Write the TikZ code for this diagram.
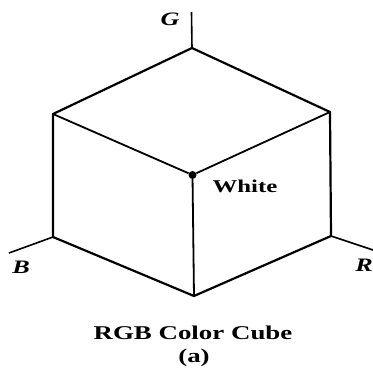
\documentclass[tikz,border=0pt]{standalone}
\usepackage{fontspec}
\setmainfont[FakeStretch=1.38]{Liberation Serif}
\usetikzlibrary{positioning}
\begin{document}
\begin{tikzpicture}[x=1pt,y=-1pt,
    edge/.style={draw=black, line width=2.2pt, line join=round},
    inner/.style={draw=black, line width=1.8pt},
    axis/.style={draw=black, line width=1.6pt},
    lab/.style={font=\bfseries\fontsize{19.5}{21}\selectfont, inner sep=0pt},
    axlab/.style={font=\bfseries\itshape\fontsize{19}{20}\selectfont, inner sep=0pt},
    vertex/.style={circle, fill=black, inner sep=0pt, minimum size=8pt}
]
\useasboundingbox (0,0) rectangle (373,369);
\coordinate (top) at (192,48);
\coordinate (left) at (53,114);
\coordinate (right) at (330,112);
\coordinate (botleft) at (53,237);
\coordinate (botright) at (331,236);
\coordinate (bottom) at (194,296);
\node[vertex] (white) at (192.5,175) {};
\coordinate (gend) at (191.5,12);
\coordinate (bend) at (9,253);
\coordinate (rend) at (373,250);
\node[axlab] (g) at (170,19.5) {G};
\node[axlab] (b) at (21,267) {B};
\node[axlab] (r) at (364,265) {R};
\node[lab, font=\bfseries\fontsize{18}{20}\selectfont] (wlabel) at (245,186) {White};
\node[lab] (title) at (193,333) {RGB Color Cube};
\node[lab] (sub) at (194,358) {(a)};
\draw[edge] (top) -- (right) -- (botright) -- (bottom) -- (botleft) -- (left) -- cycle;
\draw[inner] (left) -- (white) -- (right);
\draw[inner] (white) -- (bottom);
\draw[axis] (top) -- (gend);
\draw[axis] (botleft) -- (bend);
\draw[axis] (botright) -- (rend);
\end{tikzpicture}
\end{document}
